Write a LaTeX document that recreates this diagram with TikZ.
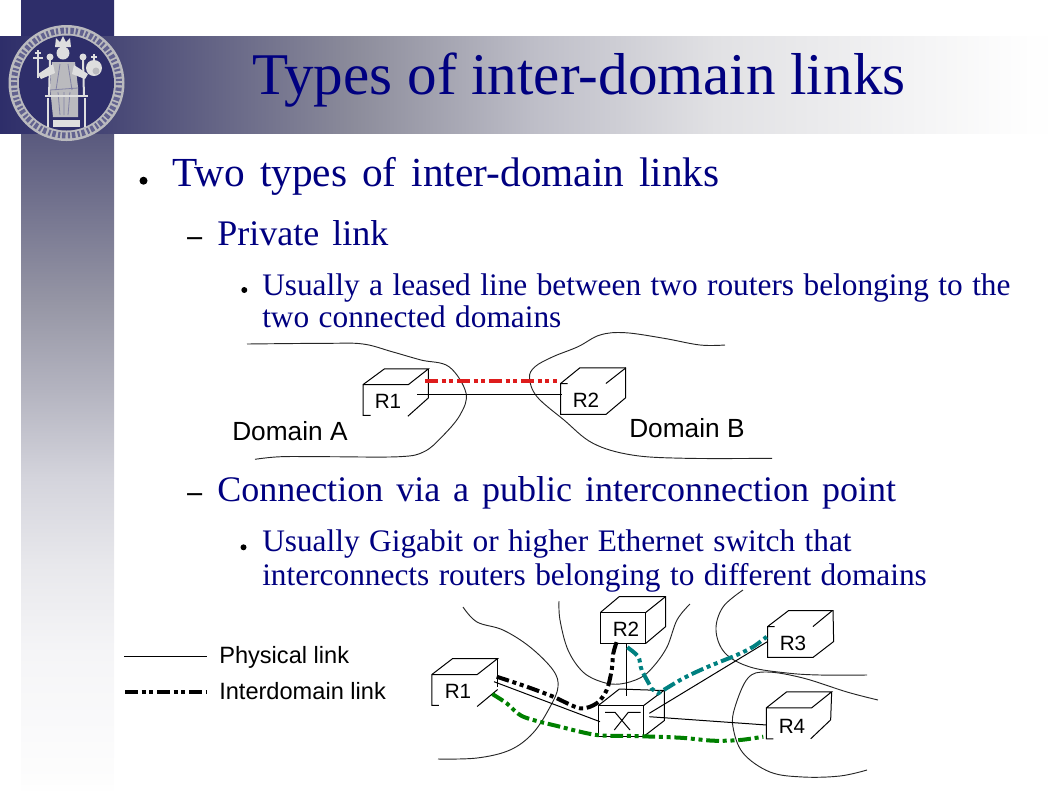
\documentclass[tikz,border=0pt]{standalone}
\usepackage{fontspec}
\setmainfont{Liberation Serif}
\setsansfont{Liberation Sans}
\usetikzlibrary{positioning, calc, shapes.geometric}
\definecolor{slidenavy}{RGB}{0,0,128}
\definecolor{bandnavy}{RGB}{46,46,106}
\definecolor{sealgray}{RGB}{186,186,190}
\definecolor{sealpale}{RGB}{222,222,222}
\definecolor{linkred}{RGB}{222,28,28}
\definecolor{linkteal}{RGB}{0,128,128}
\definecolor{linkgreen}{RGB}{0,128,0}
\definecolor{fadea}{RGB}{72,72,118}
\definecolor{fadeb}{RGB}{88,88,125}
\definecolor{fadec}{RGB}{140,140,155}
\definecolor{faded}{RGB}{150,150,165}
\definecolor{fadee}{RGB}{180,180,192}
\definecolor{fadef}{RGB}{190,190,200}
\definecolor{fadeg}{RGB}{212,212,220}
\definecolor{fadeh}{RGB}{225,225,228}
\definecolor{fadei}{RGB}{232,232,236}
\definecolor{fadej}{RGB}{245,245,247}
\definecolor{fadek}{RGB}{253,253,253}
\pgfdeclarehorizontalshading{bandshade}{100bp}{color(0bp)=(bandnavy); color(25bp)=(bandnavy); color(30.4bp)=(fadea); color(41.8bp)=(fadec); color(50.3bp)=(fadef); color(58.8bp)=(fadeh); color(73bp)=(fadek); color(75bp)=(white); color(100bp)=(white)}
\pgfdeclareverticalshading{columnshade}{100bp}{color(0bp)=(white); color(25bp)=(white); color(25.8bp)=(fadek); color(33.9bp)=(fadej); color(39.4bp)=(fadei); color(44.9bp)=(fadeg); color(50.4bp)=(fadee); color(55.9bp)=(faded); color(66.8bp)=(fadeb); color(72.7bp)=(bandnavy); color(75bp)=(bandnavy); color(100bp)=(bandnavy)}
\newcommand{\wordgap}[1]{\setlength{\spaceskip}{#1}}
\tikzstyle{titletext} = [anchor=base west, inner sep=0, text=slidenavy, font=\fontsize{44.35}{50}\selectfont]
\tikzstyle{lvlone} = [anchor=base west, inner sep=0, text=slidenavy, font=\fontsize{31}{36}\selectfont\wordgap{11.2pt}]
\tikzstyle{lvltwo} = [anchor=base west, inner sep=0, text=slidenavy, font=\fontsize{27}{32}\selectfont\wordgap{9.75pt}]
\tikzstyle{lvlthree} = [anchor=base west, inner sep=0, text=slidenavy, font=\fontsize{23.5}{28}\selectfont\wordgap{7.1pt}]
\tikzstyle{dotmark} = [circle, fill=black, inner sep=0]
\tikzstyle{dashmark} = [anchor=base west, inner sep=0, font=\bfseries\fontsize{22}{26}\selectfont]
\tikzstyle{domainlabel} = [anchor=base west, inner sep=0, font=\sffamily\fontsize{19.7}{24}\selectfont]
\tikzstyle{legendlabel} = [anchor=base west, inner sep=0, font=\sffamily\fontsize{17.7}{22}\selectfont]
\tikzstyle{router} = [rectangle, inner sep=0, minimum width=33.6pt, minimum height=22.8pt, font=\sffamily\fontsize{15.5}{18}\selectfont]
\tikzstyle{wire} = [line width=0.75pt, black]
\tikzstyle{domainline} = [line width=0.7pt, black!85]
\tikzstyle{interlink} = [line width=3pt, dash pattern=on 9.6pt off 2.8pt on 3pt off 2.8pt on 3pt off 2.8pt]
\tikzstyle{sealpart} = [fill=sealpale, draw=none]

\begin{document}
\begin{tikzpicture}[x=0.75pt, y=-0.75pt]
        \useasboundingbox (0,0) rectangle (1058,794);

        % slide background
        \shade[shading=columnshade] (21,0) rectangle (114,794);
        \shade[shading=bandshade] (0,36) rectangle (1058,133);

        % seal
        \fill[sealgray] (66.5,83) circle (58);
        \fill[bandnavy] (66.5,83) circle (47.5);
        \draw[bandnavy!75, line width=4.5pt, dash pattern=on 1.6pt off 1.8pt on 2.6pt off 1.4pt] (66.5,83) circle (52.5);
        \fill[sealpart] (63,53) circle (6.5);
        \fill[sealpart] (55,47) -- (56,38) -- (60,42) -- (63,36) -- (66,42) -- (70,38) -- (71,47) -- cycle;
        \fill[sealgray] (52,62) -- (75,62) -- (78,87) -- (78,117) -- (53,117) -- (50,87) -- cycle;
        \draw[bandnavy!60, line width=0.6pt] (60,64) -- (56,90) (68,64) -- (72,90) (50,90) -- (78,88) (58,92) -- (60,115) (64,92) -- (64,115) (70,92) -- (68,115);
        \fill[sealpart] (53,64) -- (38,74) -- (41,79) -- (55,73) -- cycle;
        \fill[sealpart] (74,65) -- (88,74) -- (85,79) -- (72,74) -- cycle;
        \draw[sealpale, line width=1.5pt] (38,50) -- (38,78) (33,58) -- (43,58) (35,53) -- (41,53);
        \fill[sealpart] (94,68) circle (8);
        \fill[sealgray] (96,71) circle (3.5);
        \draw[sealpale, line width=1.2pt] (94,60) -- (94,54) (91,57) -- (97,57);
        \fill[sealpart] (50,57) circle (3.5);
        \fill[sealpart] (83,57) circle (3.5);
        \draw[sealpale, line width=1.5pt] (50,60) -- (49,96) (83,60) -- (84,96);
        \draw[sealpale, line width=1.5pt] (45,96) -- (88,96);
        \draw[sealpale, line width=2pt] (48,98) -- (48,127) (85,98) -- (85,127);
        \fill[sealpart] (53,120) rectangle (80,127);

        % slide text
        \node[titletext] (title) at (252,94) {Types of inter-domain links};
        \node[dotmark, minimum size=6pt] (dotone) at (143.5,180.7) {};
        \node[lvlone] (twotypes) at (172,186) {Two types of inter-domain links};
        \node[dashmark] (dashone) at (187,245) {--};
        \node[lvltwo] (privlink) at (217,245) {Private link};
        \node[dotmark, minimum size=4.5pt] (dottwo) at (244.3,290) {};
        \node[lvlthree] (leasedone) at (262,295) {Usually a leased line between two routers belonging to the};
        \node[lvlthree] (leasedtwo) at (262,327) {two connected domains};
        \node[dashmark] (dashtwo) at (187,501) {--};
        \node[lvltwo] (publink) at (217,501) {Connection via a public interconnection point};
        \node[dotmark, minimum size=4.5pt] (dotthree) at (243.5,547.3) {};
        \node[lvlthree] (gigaone) at (262,551) {Usually Gigabit or higher Ethernet switch that};
        \node[lvlthree] (gigatwo) at (262,585) {interconnects routers belonging to different domains};

        % private link picture
        \draw[domainline] plot[smooth, tension=0.6] coordinates {(247,344) (327,343.3) (363,344) (392,351.7) (421,360) (449,366.7) (466,393) (460,415) (442,436.7) (424,451.7) (399,456.7) (327,456.7) (281,456.7) (255,459.3)};
        \draw[domainline] plot[smooth, tension=0.6] coordinates {(725,345) (700,345) (664,338.3) (625,332.7) (600,335) (578,346.7) (553,356.7) (535,366.7) (529.5,378) (537,396.7) (564,420) (593,443.3) (632,455) (686,458.3) (772,458.3)};

        \node[router] (ra) at (385.8,400) {};
        \node[router] (rb) at (583.2,399) {};
        \node[router, minimum size=0pt] (ratext) at (388,401.7) {R1};
        \node[router, minimum size=0pt] (rbtext) at (586,400) {R2};
        \draw[wire] ($(ra.south west)+(7.5,0)$) -| (ra.north west) -- (ra.north east) -- ++(20,-15.7) -- ++(-44,0) -- (ra.north west);
        \draw[wire] (ra.north east) ++(20,-15.7) -- ++(0,29) -- ++(-20.6,18.4);
        \draw[wire] (rb.north west) -- ++(19.3,-15.7) -- ++(45.7,0) -- ++(0,30) -- (rb.south east) -- (rb.south west) -- (rb.north west) -- ++(7,0);
        \draw[wire] (rb.north east) -- ++(20,-15.7);

        \coordinate (raport) at (417.3,394.3);
        \coordinate (rbport) at (561.7,394.3);
        \coordinate (raline) at (425,381);
        \coordinate (rbline) at (557.3,381);
        \draw[wire] (raport) -- (rbport);
        \draw[interlink, linkred] (raline) -- (rbline);

        \node[domainlabel] (doma) at (232,440) {Domain A};
        \node[domainlabel] (domb) at (629,437) {Domain B};

        % public interconnection picture
        \draw[domainline] plot[smooth, tension=0.6] coordinates {(463,607) (477,622) (503,630) (530,647) (553,670) (558,687) (550,707) (533,733) (510,750) (477,758) (438,759)};
        \draw[domainline] plot[smooth, tension=0.6] coordinates {(559,601) (560,620) (568,650) (583,672) (602,682) (620,684) (640,678) (653,667) (667,647) (677,620) (690,604)};
        \draw[domainline] plot[smooth, tension=0.6] coordinates {(743,590) (723,607) (716,630) (725,653) (750,667) (787,673) (820,675) (867,675)};
        \draw[domainline] plot[smooth, tension=0.6] coordinates {(878,700) (847,692) (803,678) (767,672) (748,678) (735,707) (733,727) (743,753) (770,772) (803,777) (840,776) (867,770)};

        \node[router, fill=white] (swbox) at (621,721) {};
        \node[router, fill=white] (rtwo) at (623,628) {};
        \node[router] (rone) at (454.5,690) {};
        \node[router] (rthree) at (790.3,642) {};
        \node[router] (rfour) at (789,723.3) {};
        \node[router, minimum size=0pt] (ronetext) at (458,691.5) {R1};
        \node[router, minimum size=0pt] (rtwotext) at (626,629) {R2};
        \node[router, minimum size=0pt] (rthreetext) at (793,643) {R3};
        \node[router, minimum size=0pt] (rfourtext) at (792,726) {R4};

        \draw[wire] ($(rone.south west)+(7,0)$) -| (rone.north west) -- (rone.north east) -- ++(20.5,-16) -- ++(-45,0) -- (rone.north west);
        \draw[wire] (rone.north east) ++(20.5,-16) -- ++(0,28);
        \draw[wire] ($(rone.south east)+(0,1)$) -- ++(20.5,-17);
        \draw[wire] (rtwo.south west) rectangle (rtwo.north east);
        \draw[wire] (rtwo.north west) -- ++(19,-16) -- ++(46.4,0) -- ++(0,30) -- (rtwo.south east);
        \draw[wire] (rtwo.north east) -- ++(20,-16);
        \draw[wire] (rthree.north west) -- ++(21,-16) -- ++(44.4,0) -- ++(0.6,31) -- (rthree.south east) -- (rthree.south west) -- (rthree.north west) -- ++(7,0);
        \draw[wire] (rthree.north east) -- ++(19.4,-16);
        \draw[wire] ($(rfour.south west)+(7,0)$) -| (rfour.north west) -- (rfour.north east) -- ++(20,-16) -- ++(-45,0) -- (rfour.north west);
        \draw[wire] (rfour.north east) ++(20,-16) -- ++(-1,28) -- ++(-20,19);
        \draw[wire] (swbox.south west) rectangle (swbox.north east);
        \draw[wire] (swbox.north west) -- ++(21,-16.5) -- ++(45,1.5) -- ++(0,30) -- (swbox.south east);
        \draw[wire] (swbox.north east) -- ++(20,-15);
        \draw[wire] (605,712.3) -- (615,712.3) -- (630,730);
        \draw[wire] (640.7,712.3) -- (628.3,712.3) -- (614.3,730);

        \coordinate (roneport) at (494,681.7);
        \coordinate (swone) at (600,721.7);
        \coordinate (rtwoport) at (626.7,643.3);
        \coordinate (swtwo) at (626.7,696);
        \coordinate (rthreeport) at (767.3,641.7);
        \coordinate (swthree) at (649.3,713.3);
        \coordinate (rfourport) at (766.7,725);
        \coordinate (swfour) at (649.3,716.7);
        \draw[wire] (roneport) -- (swone);
        \draw[wire] (rtwoport) -- (swtwo);
        \draw[wire] (rthreeport) -- (swthree);
        \draw[wire] (rfourport) -- (swfour);

        \coordinate (blackstart) at (496.7,676.7);
        \coordinate (blackend) at (617.3,640);
        \coordinate (tealstart) at (627.3,647.3);
        \coordinate (tealmid) at (652,689);
        \coordinate (tealend) at (766.7,636.7);
        \coordinate (greenstart) at (492.3,694);
        \coordinate (greenend) at (763.3,736.7);
        \draw[interlink, black] plot[smooth, tension=0.5] coordinates {(blackstart) (526.7,686.7) (553.3,696.7) (580,708.3) (596.7,703.3) (606.7,690) (611.7,670) (613.3,653.3) (blackend)};
        \draw[interlink, linkteal] plot[smooth, tension=0.5] coordinates {(tealstart) (638.3,656.7) (641.7,670) (tealmid)} -- plot[smooth, tension=0.5] coordinates {(658.3,693.3) (683.3,678.3) (706.7,667.3) (736.7,655) (753.3,646.7) (tealend)};
        \draw[interlink, linkgreen] plot[smooth, tension=0.5] coordinates {(greenstart) (506.7,703.3) (523.3,716.7) (560,726.7) (596.7,735) (633,736) (680,737.7) (713.3,740.7) (740,740) (greenend)};

        % legend
        \coordinate (physstart) at (124,656);
        \coordinate (physend) at (207,656);
        \coordinate (interstart) at (125,692);
        \coordinate (interend) at (207,692);
        \draw[wire] (physstart) -- (physend);
        \draw[interlink, black] (interstart) -- (interend);
        \node[legendlabel] (physlabel) at (219,663) {Physical link};
        \node[legendlabel] (interlabel) at (219,699) {Interdomain link};
\end{tikzpicture}
\end{document}
